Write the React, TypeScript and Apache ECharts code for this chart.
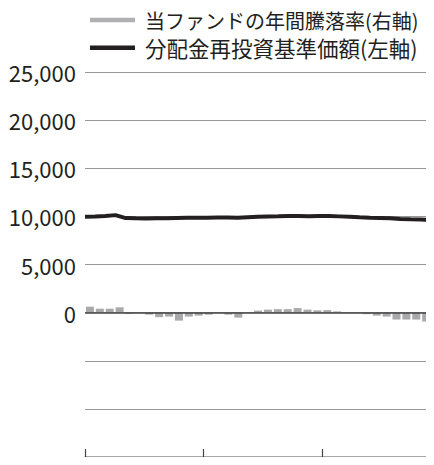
import React, { useEffect, useRef } from "react";
import * as echarts from "echarts";

const months: string[] = [
  "1", "2", "3", "4", "5", "6", "7", "8", "9", "10", "11", "12",
  "13", "14", "15", "16", "17", "18", "19", "20", "21", "22", "23", "24",
  "25", "26", "27", "28", "29", "30", "31", "32", "33", "34", "35", "36",
];

// 当ファンドの年間騰落率 (%) — right axis
const annualReturn: number[] = [
  6.2, 4.1, 4.1, 5.5, -1.3, -0.2, -2.1, -4.7, -4.1, -8.3, -4.1, -3.1,
  -2.1, -0.5, -2.1, -5.2, 0.5, 2.1, 3.1, 3.6, 3.6, 4.7, 3.1, 2.4,
  2.6, 1.3, 0.3, -0.3, -1.6, -3.1, -4.1, -7.2, -7.2, -7.2, -9.3, -8.3,
];

// 分配金再投資基準価額 (円) — left axis
const navReinvested: number[] = [
  9960, 9990, 10030, 10130, 9820, 9800, 9790, 9800, 9810, 9830, 9850, 9860,
  9870, 9880, 9890, 9850, 9900, 9950, 9980, 10010, 10050, 10050, 10020, 10040,
  10040, 10000, 9950, 9900, 9860, 9830, 9800, 9730, 9700, 9680, 9620, 9570,
];

const barName = "当ファンドの年間騰落率(右軸)";
const lineName = "分配金再投資基準価額(左軸)";

const leftMin = -15000;
const leftMax = 25000;
const leftInterval = 5000;
const rightMin = -150;
const rightMax = 250;
const rightInterval = 50;

const FONT = '"Noto Sans CJK JP", "Noto Sans", sans-serif';

const legendBase = {
  orient: "horizontal",
  left: 85,
  itemWidth: 45,
  itemHeight: 4.5,
  icon: "rect",
  selectedMode: false,
};

export default function App() {
  const ref = useRef<HTMLDivElement>(null);

  useEffect(() => {
    if (!ref.current) return;
    const chart = echarts.init(ref.current, undefined, { renderer: "svg" });
    chart.setOption({
      animation: false,
      textStyle: { fontFamily: FONT },
      legend: [
        {
          ...legendBase,
          top: 5,
          textStyle: {
            fontFamily: FONT,
            fontSize: 20,
            color: "#231f20",
            padding: [0, 0, 0, 5],
          },
          data: [{ name: barName, itemStyle: { color: "#b0b0b2" } }],
        },
        {
          ...legendBase,
          top: 32,
          textStyle: {
            fontFamily: FONT,
            fontSize: 21.5,
            color: "#231f20",
            padding: [0, 0, 0, 5],
          },
          data: [{ name: lineName, itemStyle: { color: "#231f20" } }],
        },
      ],
      grid: { left: 85, right: 0, top: 72, bottom: 8, containLabel: false },
      xAxis: [
        {
          type: "category",
          data: months,
          boundaryGap: true,
          axisLine: { show: true, onZero: false, lineStyle: { color: "#8a8a8a", width: 1.5 } },
          axisTick: {
            show: true,
            inside: true,
            length: 8,
            interval: 11,
            lineStyle: { color: "#444", width: 1.2 },
          },
          axisLabel: { show: false },
          splitLine: { show: false },
        },
        {
          type: "category",
          data: months,
          boundaryGap: false,
          show: false,
        },
      ],
      yAxis: [
        {
          type: "value",
          min: leftMin,
          max: leftMax,
          interval: leftInterval,
          axisLine: { show: false },
          axisTick: { show: false },
          axisLabel: {
            margin: 9,
            fontSize: 22,
            color: "#231f20",
            fontFamily: FONT,
            formatter: (v: number) => (v < 0 ? "" : v.toLocaleString("en-US")),
          },
          splitLine: { show: true, lineStyle: { color: "#989898", width: 1 } },
        },
        {
          type: "value",
          min: rightMin,
          max: rightMax,
          interval: rightInterval,
          show: false,
          splitLine: { show: false },
        },
      ],
      series: [
        {
          name: barName,
          type: "bar",
          xAxisIndex: 0,
          yAxisIndex: 1,
          data: annualReturn,
          barWidth: 8,
          itemStyle: { color: "#a9a9ab" },
          markLine: {
            silent: true,
            symbol: "none",
            label: { show: false },
            lineStyle: { color: "#444", width: 1.5, type: "solid" },
            data: [{ yAxis: 0 }],
            z: 5,
          },
        },
        {
          name: lineName,
          type: "line",
          xAxisIndex: 1,
          yAxisIndex: 0,
          data: navReinvested,
          showSymbol: false,
          symbol: "none",
          smooth: false,
          lineStyle: { color: "#231f20", width: 4 },
          itemStyle: { color: "#231f20" },
          z: 6,
        },
      ],
    });
    return () => chart.dispose();
  }, []);

  return (
    <div style={{ width: 434, height: 465, margin: -8, overflow: "hidden" }}>
      <div ref={ref} style={{ width: 441, height: 465 }} />
    </div>
  );
}
